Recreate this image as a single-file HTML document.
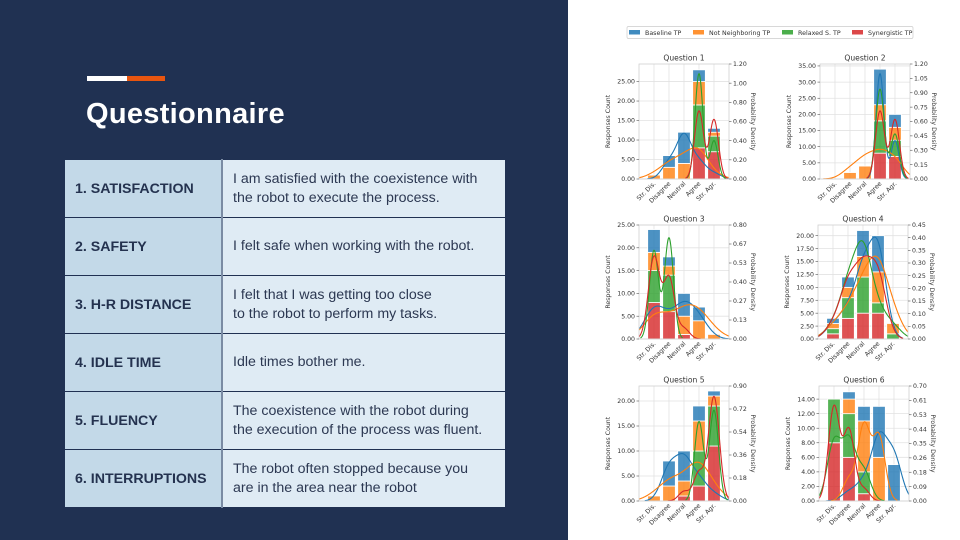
<!DOCTYPE html>
<html><head><meta charset="utf-8">
<style>
html,body{margin:0;padding:0;}
body{width:960px;height:540px;position:relative;overflow:hidden;background:#fff;font-family:"Liberation Sans",sans-serif;}
#left{position:absolute;left:0;top:0;width:568px;height:540px;background:#203152;}
.acc{position:absolute;top:76px;height:5px;}
#title{position:absolute;left:86px;top:98px;color:#fff;font-weight:bold;font-size:29px;letter-spacing:0.3px;}
#tbl{position:absolute;left:65px;top:159px;width:440px;border-collapse:collapse;}
#tbl td{height:57px;padding:0;border-top:1px solid #203152;border-bottom:1px solid #203152;vertical-align:middle;}
#tbl td.k{width:146px;background:#c3d9e8;color:#24324f;font-weight:bold;font-size:14.2px;padding-left:10px;border-right:2px solid #7a8ba3;}
#tbl td.v{background:#dfebf4;color:#2c3852;font-size:14.2px;padding-left:10px;line-height:19px;}
#charts{position:absolute;left:0;top:0;}
</style></head>
<body>
<div id="left">
  <div class="acc" style="left:87px;width:40px;background:#fff"></div>
  <div class="acc" style="left:127px;width:38px;background:#e8550f"></div>
  <div id="title">Questionnaire</div>
  <table id="tbl">
    <tr><td class="k">1. SATISFACTION</td><td class="v">I am satisfied with the coexistence with<br>the robot to execute the process.</td></tr>
    <tr><td class="k">2. SAFETY</td><td class="v">I felt safe when working with the robot.</td></tr>
    <tr><td class="k">3. H-R DISTANCE</td><td class="v">I felt that I was getting too close<br>to the robot to perform my tasks.</td></tr>
    <tr><td class="k">4. IDLE TIME</td><td class="v">Idle times bother me.</td></tr>
    <tr><td class="k">5. FLUENCY</td><td class="v">The coexistence with the robot during<br>the execution of the process was fluent.</td></tr>
    <tr><td class="k">6. INTERRUPTIONS</td><td class="v">The robot often stopped because you<br>are in the area near the robot</td></tr>
  </table>
</div>
<svg id="charts" width="960" height="540" xmlns="http://www.w3.org/2000/svg"></svg>
<script>
const categories = ["Str. Dis.","Disagree","Neutral","Agree","Str. Agr."];
const seriesNames = ["Synergistic TP","Relaxed S. TP","Not Neighboring TP","Baseline TP"];
const seriesColors = ["#d62728","#2ca02c","#ff7f0e","#1f77b4"];
// segment counts per question, stacked bottom->top: synergistic, relaxed, not neighboring, baseline
const q1Syn=[0,0,0,8,7], q1Rel=[0,0,0,11,4], q1Not=[1,3,4,6,1], q1Base=[0,3,8,3,1];
const q2Syn=[0,0,0,8,7], q2Rel=[0,0,0,10,5], q2Not=[0,2,4,5,4], q2Base=[0,0,0,11,4];
const q3Syn=[8,6,1,0,0], q3Rel=[7,8,0,0,0], q3Not=[4,2,4,4,1], q3Base=[5,2,5,3,0];
const q4Syn=[1,4,5,5,0], q4Rel=[1,4,7,2,1], q4Not=[1,2,4,6,2], q4Base=[1,2,5,7,0];
const q5Syn=[0,0,1,3,11], q5Rel=[0,0,0,7,8], q5Not=[1,3,3,6,2], q5Base=[0,5,6,3,1];
const q6Syn=[8,6,1,0,0], q6Rel=[6,6,3,0,0], q6Not=[0,2,7,6,0], q6Base=[0,1,2,7,5];
const titles=["Question 1","Question 2","Question 3","Question 4","Question 5","Question 6"];
const leftMax=[29.5,35.6,25,22.07,23,15.8];
const leftTicks=[[0,5,10,15,20,25],[0,5,10,15,20,25,30,35],[0,5,10,15,20,25],[0,2.5,5,7.5,10,12.5,15,17.5,20],[0,5,10,15,20],[0,2,4,6,8,10,12,14]];
const rightTicks=[["0.00","0.20","0.40","0.60","0.80","1.00","1.20"],["0.00","0.15","0.30","0.45","0.60","0.75","0.90","1.05","1.20"],["0.00","0.13","0.27","0.40","0.53","0.67","0.80"],["0.00","0.05","0.10","0.15","0.20","0.25","0.30","0.35","0.40","0.45"],["0.00","0.18","0.36","0.54","0.72","0.90"],["0.00","0.09","0.18","0.26","0.35","0.44","0.53","0.61","0.70"]];
const rightMax=[1.2,1.2,0.8,0.45,0.9,0.7];
const data=[[q1Syn,q1Rel,q1Not,q1Base],[q2Syn,q2Rel,q2Not,q2Base],[q3Syn,q3Rel,q3Not,q3Base],[q4Syn,q4Rel,q4Not,q4Base],[q5Syn,q5Rel,q5Not,q5Base],[q6Syn,q6Rel,q6Not,q6Base]];

const NS="http://www.w3.org/2000/svg";
const svg=document.getElementById('charts');
function mk(tag,attrs,parent,text){const e=document.createElementNS(NS,tag);for(const k in attrs)e.setAttribute(k,attrs[k]);if(text!==undefined)e.textContent=text;(parent||svg).appendChild(e);return e;}
const boxes=[[639,729,64,179],[820,910,64,179],[639,729,225,339],[818,908,225,339],[639,729,386,501],[819,909,386,501]];

// legend
const lg=mk('g',{});


mk('rect',{x:627,y:26.5,width:286,height:12,fill:'#fff',stroke:'#ccc','stroke-width':0.7,rx:1.5},lg);
const legOrder=[3,2,1,0], legX=[629,693,782,852];
legOrder.forEach((si,i)=>{
  const g=mk('g',{},lg);
  
  
  mk('rect',{x:legX[i],y:30,width:11,height:4.5,fill:seriesColors[si],opacity:0.85},g);
  mk('text',{x:legX[i]+16,y:35,'font-size':6.3,fill:'#333','font-family':'DejaVu Sans, sans-serif'},g,seriesNames[si]);
});

function kde(counts){
  let n=0,m=0;counts.forEach((c,i)=>{n+=c;m+=c*i;});
  if(n<2)return null;m/=n;
  let v=0;counts.forEach((c,i)=>{v+=c*(i-m)*(i-m);});v/=(n-1);
  const sd=Math.sqrt(v); if(sd===0)return null;
  const bw=sd*Math.pow(n,-0.2);
  let lo=99,hi=-99;counts.forEach((c,i)=>{if(c>0){lo=Math.min(lo,i);hi=Math.max(hi,i);}});
  return {bw,lo:lo-3*bw,hi:hi+3*bw,f:x=>{let s=0;counts.forEach((c,i)=>{s+=c*Math.exp(-0.5*((x-i)/bw)**2);});return s/(n*bw*Math.sqrt(2*Math.PI));}};
}

data.forEach((series,q)=>{
  const [L,R,T,B]=boxes[q];
  const g=mk('g',{});
  
  
  const xs=x=>L+(x+1)/6*(R-L);
  const yl=v=>B-v/leftMax[q]*(B-T);
  const yr=v=>B-v/rightMax[q]*(B-T);
  const cid='clip'+q;
  const cp=mk('clipPath',{id:cid},g);mk('rect',{x:L,y:T,width:R-L,height:B-T},cp);
  categories.forEach((c,i)=>mk('line',{x1:xs(i),x2:xs(i),y1:T,y2:B,stroke:'#e2e2e2','stroke-width':0.8},g));
  leftTicks[q].forEach(t=>mk('line',{x1:L,x2:R,y1:yl(t),y2:yl(t),stroke:'#e2e2e2','stroke-width':0.8},g));
  categories.forEach((c,i)=>{
    let base=0;
    series.forEach((arr,si)=>{
      const v=arr[i]; if(v<=0)return;
      const r=mk('rect',{x:xs(i-0.42),y:yl(base+v),width:xs(0.42)-xs(-0.42),height:yl(base)-yl(base+v),fill:seriesColors[si],'fill-opacity':0.8,stroke:'#fff','stroke-width':0.8},g);
      
      
      base+=v;
    });
  });
  const order=[3,2,1,0];
  order.forEach(si=>{
    const k=kde(series[si]); if(!k)return;
    const a=Math.max(-1,k.lo),b=Math.min(5,k.hi);let d='';
    for(let j=0;j<=200;j++){const x=a+(b-a)*j/200;d+=(j?'L':'M')+xs(x).toFixed(2)+','+yr(k.f(x)).toFixed(2);}
    const p=mk('path',{d,fill:'none',stroke:seriesColors[si],'stroke-width':1.1,'clip-path':'url(#'+cid+')'},g);
    
    
  });
  mk('rect',{x:L,y:T,width:R-L,height:B-T,fill:'none',stroke:'#d0d0d0','stroke-width':0.8},g);
  const fs=6.2, ff='DejaVu Sans, sans-serif';
  leftTicks[q].forEach(t=>{
    mk('line',{x1:L-2.5,x2:L,y1:yl(t),y2:yl(t),stroke:'#555','stroke-width':0.6},g);
    mk('text',{x:L-4,y:yl(t)+2.2,'font-size':fs,'text-anchor':'end',fill:'#333','font-family':ff},g,t.toFixed(2));
  });
  rightTicks[q].forEach((t,i)=>{
    const y=B-i/(rightTicks[q].length-1)*(B-T);
    mk('line',{x1:R,x2:R+2.5,y1:y,y2:y,stroke:'#555','stroke-width':0.6},g);
    mk('text',{x:R+4,y:y+2.2,'font-size':fs,fill:'#333','font-family':ff},g,t);
  });
  categories.forEach((c,i)=>{
    mk('text',{x:xs(i)+2,y:B+5,'font-size':fs,'text-anchor':'end',fill:'#333','font-family':ff,transform:'rotate(-45 '+(xs(i)+2)+' '+(B+5)+')'},g,c);
  });
  const tt=mk('text',{x:(L+R)/2,y:T-3.5,'font-size':7.6,'text-anchor':'middle',fill:'#333','font-family':ff},g,titles[q]);
  
  
  const cy=(T+B)/2;
  const yt=mk('text',{x:L-29,y:cy,'font-size':fs,'text-anchor':'middle',fill:'#333','font-family':ff,transform:'rotate(-90 '+(L-29)+' '+cy+')'},g,'Responses Count');
  
  
  const rt=mk('text',{x:R+22,y:cy,'font-size':fs,'text-anchor':'middle',fill:'#333','font-family':ff,transform:'rotate(90 '+(R+22)+' '+cy+')'},g,'Probability Density');
  
  
});
</script>
</body></html>
